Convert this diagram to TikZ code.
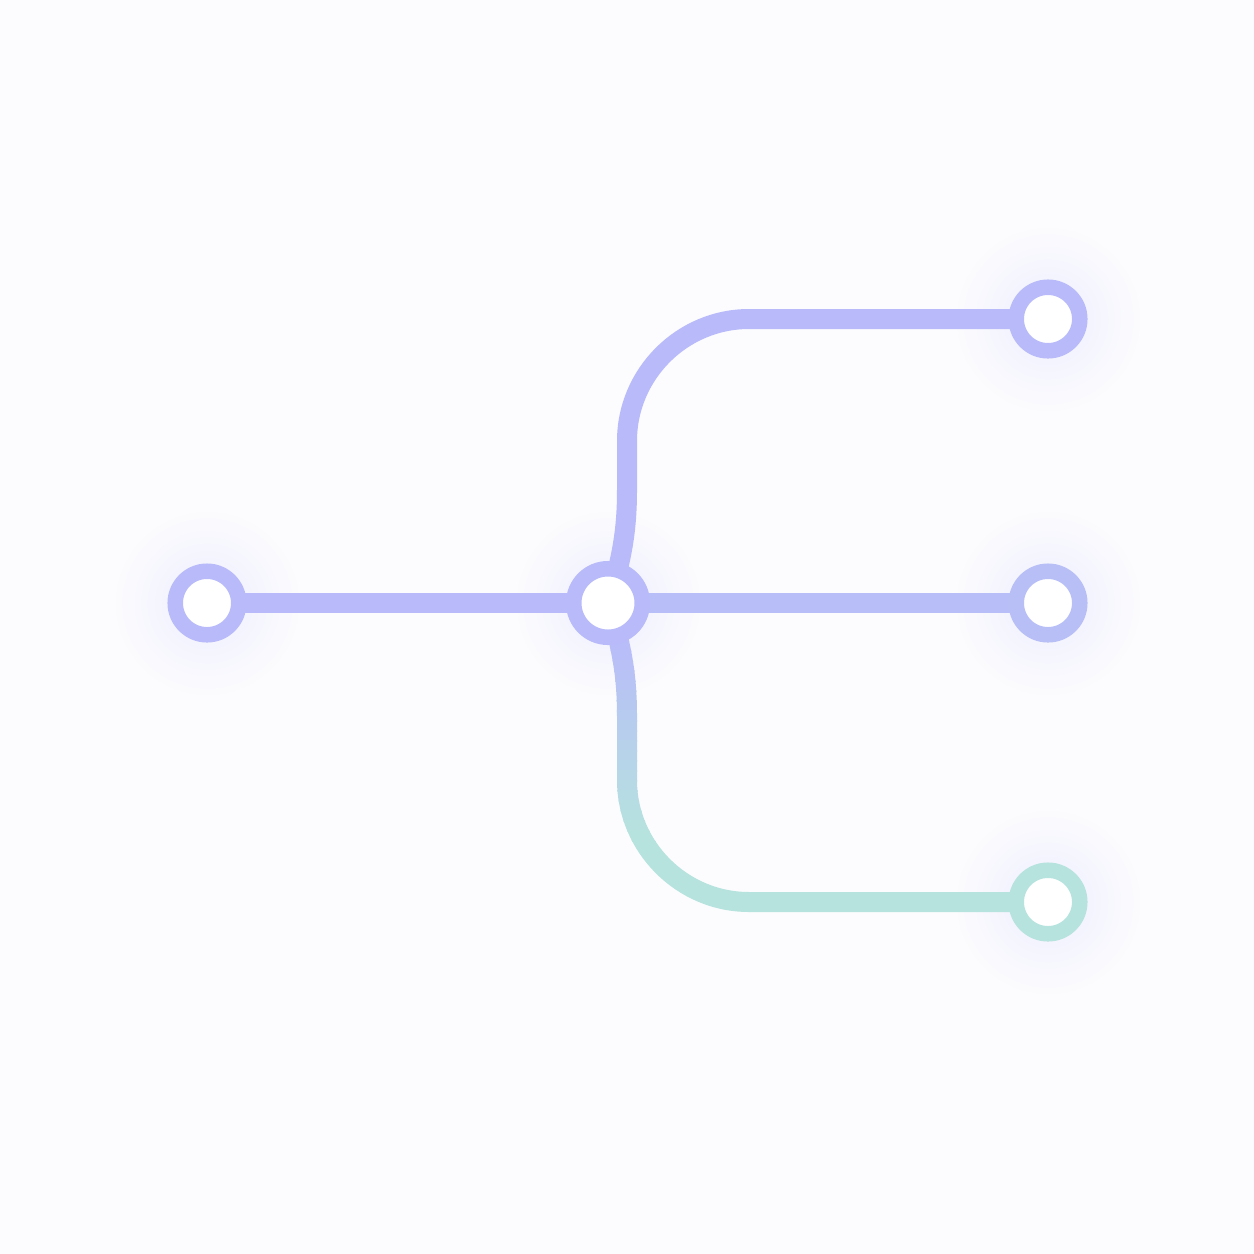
\documentclass[tikz,border=0pt]{standalone}
\definecolor{pur}{RGB}{184,186,250}
\definecolor{tea}{RGB}{182,227,222}
\definecolor{bg}{RGB}{252,252,254}
\tikzset{
  conn/.style={line width=0.2cm, line cap=butt},
  ring/.style={circle, draw=pur, fill=white, line width=0.155cm, minimum size=0.635cm, inner sep=0pt},
  hub/.style={ring, minimum size=0.685cm},
  halo/.style={inner color=pur!22!bg, outer color=bg}
}
\begin{document}
\begin{tikzpicture}[x=0.01cm, y=-0.01cm]
\fill[bg] (0,0) rectangle (1254,1254);
\useasboundingbox (0,0) rectangle (1254,1254);
% halos
\foreach \p in {(207,603),(608,603),(1048,319),(1048,603),(1048,902)}{
  \shade[halo] \p circle[radius=0.95cm];
}
% node positions
\coordinate (Lp) at (207,603);
\coordinate (Cp) at (608,603);
\coordinate (Tp) at (1048,319);
\coordinate (Mp) at (1048,603);
\coordinate (Bp) at (1048,902);
% connectors (drawn first, rings on top)
\draw[conn, pur] (Lp) -- (Cp);
\draw[conn, pur!90!tea] (Cp) -- (Mp);
\draw[conn, pur] (Cp) .. controls (622,560) and (627,530) .. (627,490)
   -- (627,441) .. controls (627,374) and (682,319) .. (749,319) -- (Tp);
\def\lowerpath{(Cp) .. controls (622,646) and (627,676) .. (627,716)
   -- (627,780) .. controls (627,847) and (682,902) .. (749,902) -- (Bp)}
\begin{scope}
  \clip (500,560) rectangle (1100,641);
  \draw[conn, pur] \lowerpath;
\end{scope}
\foreach \i in {0,...,19}{
  \pgfmathtruncatemacro{\pc}{\i*5+5}
  \begin{scope}
    \clip (500,{640+\i*10}) rectangle (1100,{651+\i*10});
    \draw[conn, tea!\pc!pur] \lowerpath;
  \end{scope}
}
\begin{scope}
  \clip (500,840) rectangle (1100,1000);
  \draw[conn, tea] \lowerpath;
\end{scope}
% rings
\node[ring] (L) at (Lp) {};
\node[hub] (C) at (Cp) {};
\node[ring] (T) at (Tp) {};
\node[ring, draw=pur!88!tea] (M) at (Mp) {};
\node[ring, draw=tea] (B) at (Bp) {};
\end{tikzpicture}
\end{document}
